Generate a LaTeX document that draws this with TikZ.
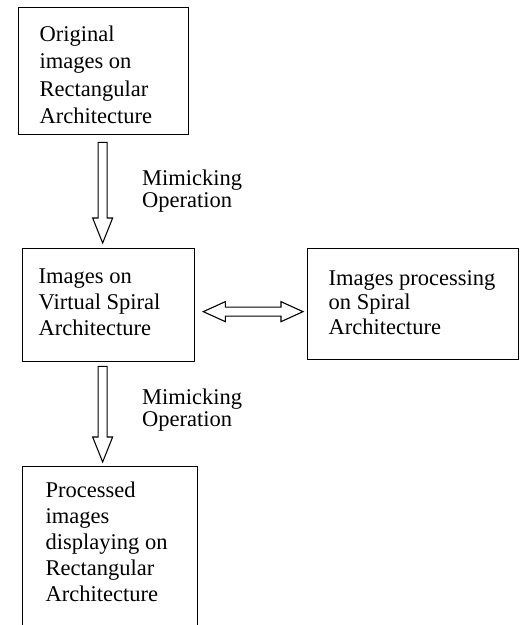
\documentclass[tikz,border=0pt]{standalone}
\usepackage{fontspec}
\setmainfont{Liberation Serif}
\usetikzlibrary{calc}
% #1 width, #2 height, #3 left pad, #4 top pad, #5 baselineskip, #6 text
\newcommand{\bxtext}[6]{\parbox[t][#2][t]{#1}{\fontsize{22.5}{#5}\selectfont\raggedright\leftskip=#3\relax\vspace*{#4}\strut #6}}
\newcommand{\lbltext}[1]{\parbox[t]{120pt}{\fontsize{22.5}{22}\selectfont\raggedright\strut #1}}
\newcommand{\vhollow}[2]{\draw[harrow] let \p1=(#1), \p2=(#2) in
  (\x1-4.5pt,\y1) -- (\x1+4.5pt,\y1) -- (\x1+4.5pt,\y2+25pt) -- (\x1+10pt,\y2+25pt)
  -- (\x1,\y2) -- (\x1-10pt,\y2+25pt) -- (\x1-4.5pt,\y2+25pt) -- cycle;}
\begin{document}
\begin{tikzpicture}[x=1pt,y=1pt,
  box/.style={draw, line width=1.3pt, inner sep=0pt, anchor=north west},
  harrow/.style={draw, line width=1.1pt, fill=white, line join=miter},
  lbl/.style={inner sep=0pt, anchor=north west}]
\useasboundingbox (0,0) rectangle (520,-625);
\fill[white] (0,0) rectangle (520,-625);
\clip (0,0) rectangle (520,-625);

\node[box] (orig) at (18,-7)
  {\bxtext{170pt}{127pt}{21pt}{14.5pt}{27.5}{Original\\images on\\Rectangular\\Architecture}};
\node[box] (virt) at (22,-248)
  {\bxtext{172pt}{113pt}{16pt}{16.5pt}{26}{Images on\\Virtual Spiral\\Architecture}};
\node[box] (proc) at (307,-248)
  {\bxtext{211pt}{111pt}{21pt}{19.5pt}{24.5}{Images processing\\on Spiral\\Architecture}};
\node[box] (disp) at (22,-466)
  {\bxtext{175pt}{200pt}{23pt}{12.5pt}{26}{Processed\\images\\displaying on\\Rectangular\\Architecture}};

% connector end points
\path let \p1=(orig.south), \p2=(virt.north) in
  coordinate (a1s) at (\x1-1pt,\y1-7pt)
  coordinate (a1e) at (\x1-1pt,\y2+5pt);
\path let \p1=(virt.south), \p2=(disp.north) in
  coordinate (a2s) at (\x1-6pt,\y1-4pt)
  coordinate (a2e) at (\x1-6pt,\y2+4pt);
\path let \p1=(virt.east), \p2=(proc.west) in
  coordinate (d1) at (\x1+8pt,\y1-6.5pt)
  coordinate (d2) at (\x2-4pt,\y1-6.5pt);

\vhollow{a1s}{a1e}
\vhollow{a2s}{a2e}
\draw[harrow] let \p1=(d1), \p2=(d2) in
  (\x1,\y1) -- (\x1+22pt,\y1+10pt) -- (\x1+22pt,\y1+4.5pt) -- (\x2-22pt,\y1+4.5pt)
  -- (\x2-22pt,\y1+10pt) -- (\x2,\y1) -- (\x2-22pt,\y1-10pt) -- (\x2-22pt,\y1-4.5pt)
  -- (\x1+22pt,\y1-4.5pt) -- (\x1+22pt,\y1-10pt) -- cycle;

\node[lbl] (m1) at (142,-169.6) {\lbltext{Mimicking\\Operation}};
\node[lbl] (m2) at (142,-389) {\lbltext{Mimicking\\Operation}};
\end{tikzpicture}
\end{document}
